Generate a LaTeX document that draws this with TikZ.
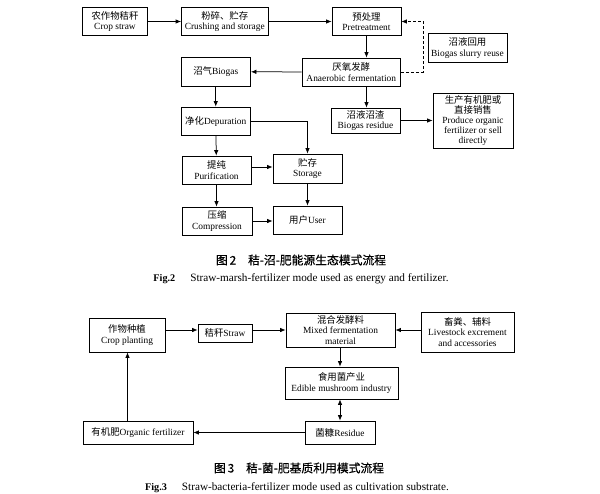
\documentclass[tikz,border=0pt]{standalone}
\usepackage{fontspec}
\setmainfont{Liberation Serif}
\newfontfamily\cn{Noto Sans CJK SC}
\newfontfamily\cnb{Noto Sans CJK SC}[FakeBold=0.6]
\usetikzlibrary{arrows.meta,calc}
\begin{document}
\begin{tikzpicture}[x=1pt,y=-1pt,
  box/.style={draw,line width=0.75pt,inner sep=0pt,align=center,
    font=\fontsize{9.4}{10.6}\selectfont},
  arr/.style={line width=0.75pt,-{Latex[length=5.5pt,width=4.5pt]}},
  darr/.style={line width=0.75pt,{Latex[length=5.5pt,width=4.5pt]}-{Latex[length=5.5pt,width=4.5pt]}},
  capcn/.style={font=\cnb\fontsize{11.8}{13}\selectfont},
  capen/.style={font=\fontsize{11.2}{13}\selectfont}]
\useasboundingbox (0,0) rectangle (600,493);
% ---------- Fig 2 ----------
\node[box,minimum width=65pt,minimum height=28pt] (A) at (115,21.5) {{\cn 农作物秸秆}\\Crop straw};
\node[box,minimum width=86.5pt,minimum height=28pt] (B) at (224.75,21.5) {{\cn 粉碎、贮存}\\Crushing and storage};
\node[box,minimum width=69pt,minimum height=28pt] (C) at (366.5,21.5) {{\cn 预处理}\\Pretreatment};
\node[box,minimum width=79pt,minimum height=28.5pt] (D) at (467.5,47.75) {{\cn 沼液回用}\\Biogas slurry reuse};
\node[box,minimum width=98.5pt,minimum height=28pt] (E) at (351.25,72) {{\cn 厌氧发酵}\\Anaerobic fermentation};
\node[box,minimum width=69.5pt,minimum height=28.5pt] (F) at (215.75,71.75) {{\cn 沼气}Biogas};
\node[box,minimum width=69pt,minimum height=25pt] (G) at (365.5,120.5) {{\cn 沼液沼渣}\\Biogas residue};
\node[box,minimum width=80pt,minimum height=55pt,font=\fontsize{9.4}{9.9}\selectfont] (H) at (473,120.5) {{\cn 生产有机肥或}\\{\cn 直接销售}\\Produce organic\\fertilizer or sell\\directly};
\node[box,minimum width=69.5pt,minimum height=28.5pt] (I) at (215.75,121.25) {{\cn 净化}Depuration};
\node[box,minimum width=69pt,minimum height=28pt] (J) at (216.5,170) {{\cn 提纯}\\Purification};
\node[box,minimum width=69pt,minimum height=29pt] (K) at (307.5,168.5) {{\cn 贮存}\\Storage};
\node[box,minimum width=70pt,minimum height=28pt] (L) at (217,221) {{\cn 压缩}\\Compression};
\node[box,minimum width=69pt,minimum height=28pt] (M) at (307.5,220) {{\cn 用户}User};
\coordinate (dtop) at (423,21.5);
\coordinate (dbot) at (423,72);
\coordinate (ibend) at (307.5,121.5);
\draw[arr] (A) -- (B);
\draw[arr] (B) -- (C);
\draw[arr] (C.south) -- (C.south |- E.north);
\draw[arr] (E) -- (F);
\draw[arr] (C.south |- E.south) -- (C.south |- G.north);
\draw[arr] (G) -- (H);
\draw[arr,dash pattern=on 3pt off 2pt] (E.east) -- (dbot) -- (dtop) -- (C.east);
\draw[arr] (F) -- (I);
\draw[arr] (I.east |- ibend) -- (ibend) -- (K.north);
\draw[arr] (I) -- (J);
\draw[arr] ($(J.east)+(0,-3)$) -- ($(J.east -| K.west)+(0,-3)$);
\draw[arr] (J) -- (J |- L.north);
\draw[arr] (L.east) -- (L.east -| M.west);
\draw[arr] (K) -- (M);
\node[capcn] (cap2cn) at (301,260) {图\,2\quad 秸-沼-肥能源生态模式流程};
\node[capen] (cap2en) at (301,278.5) {{\fontsize{10.2}{12}\selectfont\textbf{Fig.2}}\hspace{15pt}Straw-marsh-fertilizer mode used as energy and fertilizer.};
% ---------- Fig 3 ----------
\node[box,minimum width=76pt,minimum height=34pt] (N) at (127,335) {{\cn 作物种植}\\Crop planting};
\node[box,minimum width=54pt,minimum height=18pt] (O) at (225,333) {{\cn 秸秆}Straw};
\node[box,minimum width=109pt,minimum height=34pt] (P) at (340.5,330) {{\cn 混合发酵料}\\Mixed fermentation\\material};
\node[box,minimum width=93pt,minimum height=40pt] (Q) at (467.5,332) {{\cn 畜粪、辅料}\\Livestock excrement\\and accessories};
\node[box,minimum width=113pt,minimum height=32pt] (R) at (341.5,383) {{\cn 食用菌产业}\\Edible mushroom industry};
\node[box,minimum width=70pt,minimum height=23pt] (S) at (340,432.5) {{\cn 菌糠}Residue};
\node[box,minimum width=110pt,minimum height=23pt] (T) at (138,432.5) {{\cn 有机肥}Organic fertilizer};
\coordinate (tup) at (127.5,421);
\draw[arr] ($(N.east)+(0,-5)$) -- ($(N.east -| O.west)+(0,-5)$);
\draw[arr] ($(O.east)+(0,-3)$) -- ($(O.east -| P.west)+(0,-3)$);
\draw[arr] (Q.west |- P.east) -- (P.east);
\draw[arr] (P.south -| S.north) -- (S.north |- R.north);
\draw[darr] (S.north |- R.south) -- (S.north);
\draw[arr] (S) -- (T);
\draw[arr] (tup) -- (tup |- N.south);
\node[capcn] (cap3cn) at (299,468) {图\,3\quad 秸-菌-肥基质利用模式流程};
\node[capen] (cap3en) at (297,487.5) {{\fontsize{10.2}{12}\selectfont\textbf{Fig.3}}\hspace{15pt}Straw-bacteria-fertilizer mode used as cultivation substrate.};
\end{tikzpicture}
\end{document}
